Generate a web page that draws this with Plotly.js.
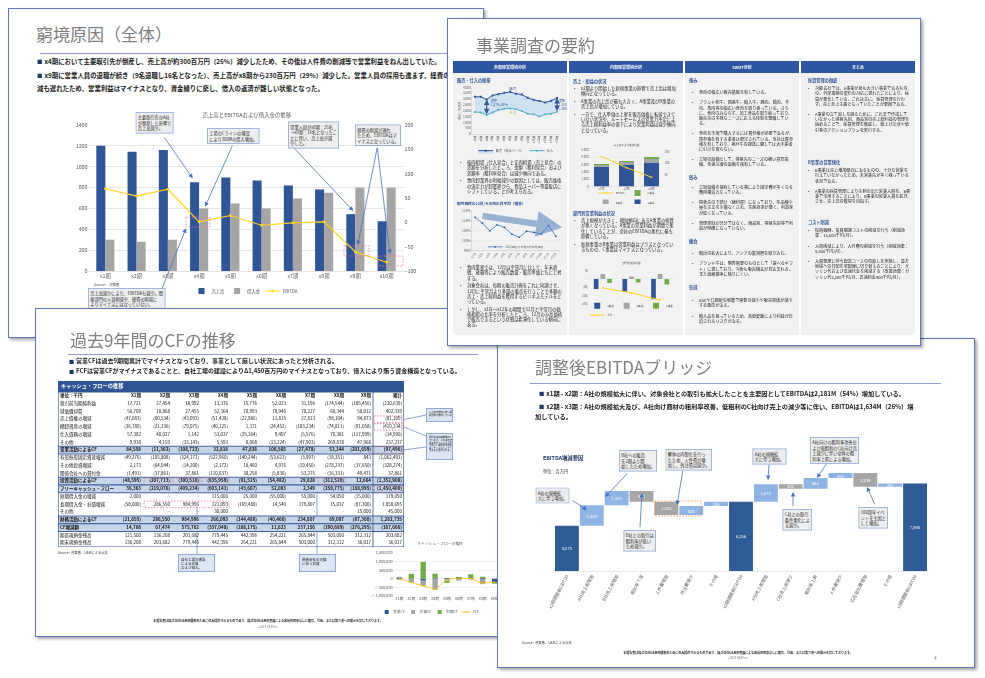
<!DOCTYPE html>
<html lang="ja"><head><meta charset="utf-8">
<script src="https://cdn.plot.ly/plotly-3.0.1.min.js"></script>
<style>
*{box-sizing:border-box;}
body{margin:0;width:985px;height:678px;position:relative;overflow:hidden;background:#fff;font-family:"Noto Sans CJK JP","Noto Sans",sans-serif;}
.slide{position:absolute;background:#fff;overflow:hidden;box-shadow:2px 2px 3px rgba(0,0,0,0.35);}
.frame{position:absolute;left:0;top:0;right:0;bottom:0;border:1.5px solid #5d76bd;z-index:50;pointer-events:none;}
.a{position:absolute;}
.ttl{position:absolute;color:#7f7f7f;font-size:17px;line-height:1;white-space:nowrap;}
.rule{position:absolute;height:1px;background:#8e9fd0;}
.bl{position:absolute;font-size:6.2px;font-weight:bold;color:#1a1a1a;line-height:1;white-space:nowrap;}
.sq{font-size:0.85em;color:#1f3864;margin-right:2px;}
.t2{position:absolute;transform:scale(0.5);transform-origin:0 0;white-space:nowrap;line-height:1.15;}
.tw{position:absolute;transform:scale(0.5);transform-origin:0 0;white-space:normal;line-break:anywhere;word-break:break-all;line-height:1.15;}
.ctr{position:absolute;transform:translateX(-50%) scale(0.5);transform-origin:50% 0;white-space:nowrap;line-height:1;}
.note{position:absolute;background:#dbe5f3;border:0.8px solid #8fa8d8;overflow:hidden;}
.s2in{position:absolute;left:0;top:0;width:948px;height:656px;transform:scale(0.5);transform-origin:0 0;}
.colh{position:absolute;top:86px;height:24px;width:228px;background:#2e55a2;color:#fff;font-size:8px;font-weight:bold;text-align:center;line-height:24px;}
.colb{position:absolute;top:110px;height:524px;width:228px;background:#f2f2f2;}
.sec{position:absolute;font-size:8.4px;font-weight:bold;color:#2f5597;white-space:nowrap;line-height:10px;}
.ul{position:absolute;left:12px;width:206px;font-size:8.6px;line-height:10.4px;color:#222;}
.ul div{position:relative;padding-left:14px;margin-bottom:5px;}
.ul div::before{content:'•';position:absolute;left:0;top:0;}
.ul.w div{margin-bottom:10px;}
.ul.s{font-size:8.2px;}
</style></head><body>

<!-- ===== Slide 1 ===== -->
<div class="slide" id="s1" style="left:8px;top:8px;width:476px;height:330px;z-index:1">
 <div class="frame"></div>
 <div class="ttl" style="left:28px;top:16.5px">窮境原因（全体）</div>
 <div class="rule" style="left:32px;top:45px;width:450px"></div>
 <div class="bl" style="left:29px;top:51.3px;font-size:6.4px"><span class="sq">■</span>x4期において主要取引先が倒産し、売上高が約300百万円（25%）減少したため、その後は人件費の削減等で営業利益をねん出していた。</div>
 <div class="bl" style="left:29px;top:64.8px;font-size:6.4px"><span class="sq">■</span>x9期に営業人員の退職が続き（9名退職し16名となった）、売上高がx8期から230百万円（29%）減少した。営業人員の採用も進まず、経費の削</div>
 <div class="bl" style="left:29px;top:77.8px;font-size:6.4px">減も遅れたため、営業利益はマイナスとなり、資金繰りに窮し、借入の返済が難しい状態となった。</div>
</div>

<!-- ===== Slide 3 ===== -->
<div class="slide" id="s3" style="left:35px;top:308px;width:463px;height:329px;z-index:2">
 <div class="frame"></div>
 <div class="ttl" style="left:35px;top:22.5px">過去9年間のCFの推移</div>
 <div class="rule" style="left:33px;top:45.5px;width:410px"></div>
 <div class="bl" style="left:34px;top:49.7px;font-size:6px"><span class="sq">■</span>営業CFは過去9期間累計でマイナスとなっており、事業として厳しい状況にあったと分析される。</div>
 <div class="bl" style="left:34px;top:59.7px;font-size:6px"><span class="sq">■</span>FCFは営業CFがマイナスであることと、自社工場の建設によりΔ1,450百万円のマイナスとなっており、借入により賄う資金構造となっている。</div>
 <div class="a" style="left:23px;top:72.7px;width:346px;height:11px;background:#2f5597;"></div>
 <div class="t2" style="left:26px;top:74.6px;font-size:10.4px;font-weight:bold;color:#fff">キャッシュ・フローの推移</div>
 <svg class="a" style="left:0;top:0;overflow:visible" width="463" height="329">
  <g stroke="#6f8fcf" stroke-width="0.8" fill="none">
   <line x1="391" y1="107" x2="369" y2="111.5"/>
   <line x1="391" y1="128" x2="369" y2="119"/>
   <line x1="391" y1="139" x2="369" y2="142"/>
   <line x1="162" y1="246" x2="162" y2="198"/>
   <line x1="282" y1="246" x2="282" y2="176"/>
  </g>
 </svg>
 <div class="note" style="left:391px;top:100px;width:27px;height:14px"><div class="tw" style="left:1.5px;top:1.5px;width:47px;font-size:4.6px;color:#1a1a1a">売上高の増加に伴い運転資本が増加している。</div></div>
 <div class="note" style="left:391px;top:125px;width:27px;height:27px"><div class="tw" style="left:1.5px;top:1.5px;width:47px;font-size:4.6px;color:#1a1a1a">棚卸資産は毎期増加しているが、これは架空在庫の計上によるものであり、実態は不良在庫（デッドストック）であると推察される。</div></div>
 <div class="note" style="left:143px;top:246px;width:37px;height:18px"><div class="t2" style="left:2px;top:2px;font-size:7px;color:#1a1a1a">自社工場の建設<br>による投資<br>および借入。</div></div>
 <div class="note" style="left:264px;top:246px;width:37px;height:18px"><div class="t2" style="left:2px;top:2px;font-size:7px;color:#1a1a1a">関係会社の清算<br>に伴う投資</div></div>
 <div class="t2" style="left:23px;top:242.5px;font-size:6.6px;color:#333">Source:&nbsp;&nbsp;決算書、U&amp;Mによる分析</div>
 <div class="ctr" style="left:233px;top:311px;font-size:6px;font-weight:bold;color:#222">本報告書は株式会社U&amp;Mの顧客のためにのみ提供されるものであり、株式会社U&amp;Mの書面による事前の同意なしに複写、引用、または第三者への開示を禁じております。</div>
 <div class="ctr" style="left:233px;top:317.5px;font-size:5.6px;color:#777">©2019 U&amp;M Inc.</div>
</div>

<!-- ===== Slide 4 ===== -->
<div class="slide" id="s4" style="left:497px;top:338px;width:478px;height:330px;z-index:3">
 <div class="frame"></div>
 <div class="ttl" style="left:38px;top:20px">調整後EBITDAブリッジ</div>
 <div class="rule" style="left:33px;top:45.3px;width:411px"></div>
 <div class="bl" style="left:42px;top:53px"><span class="sq">■</span>x1期 - x2期：A社の規模拡大に伴い、対象会社との取引も拡大したことを主要因としてEBITDAは2,181M（54%）増加している。</div>
 <div class="bl" style="left:42px;top:65.6px"><span class="sq">■</span>x2期 - x3期：A社の規模拡大及び、A社向け商材の粗利率改善、低粗利のC社向け売上の減少等に伴い、EBITDAは1,634M（26%）増</div>
 <div class="bl" style="left:38px;top:76.2px">加している。</div>
 <div class="t2" style="left:46px;top:116.5px;font-size:10.6px;font-weight:bold;color:#1f3864">EBITDA増減要因</div>
 <div class="t2" style="left:46px;top:130.5px;font-size:8.4px;color:#333">単位：百万円</div>
 <div class="t2" style="left:25px;top:302.5px;font-size:6.6px;color:#333">Source:&nbsp;&nbsp;決算書、U&amp;Mによる分析</div>
 <div class="ctr" style="left:241px;top:312.5px;font-size:6px;font-weight:bold;color:#222">本報告書は株式会社U&amp;Mの顧客のためにのみ提供されるものであり、株式会社U&amp;Mの書面による事前の同意なしに複写、引用、または第三者への開示を禁じております。</div>
 <div class="ctr" style="left:241px;top:318.5px;font-size:5.6px;color:#777">©2019 U&amp;M Inc.</div>
 <div class="t2" style="left:437px;top:317px;font-size:10px;color:#7f7f7f">4</div>
</div>

<!-- ===== Slide 2 ===== -->
<div class="slide" id="s2" style="left:447px;top:18px;width:474px;height:328px;z-index:4">
 <div class="frame"></div>
 <div class="s2in" id="s2in">
  <div class="ttl" style="left:58px;top:37px;font-size:34px">事業調査の要約</div>
  <div class="colh" style="left:12px">外部経営環境分析</div>
  <div class="colh" style="left:244px">内部経営環境分析</div>
  <div class="colh" style="left:476px">SWOT分析</div>
  <div class="colh" style="left:708px">まとめ</div>
  <div class="colb" style="left:12px"></div>
  <div class="colb" style="left:244px"></div>
  <div class="colb" style="left:476px"></div>
  <div class="colb" style="left:708px"></div>

  <!-- col 1 -->
  <div class="sec" style="left:20px;top:119px">販売・仕入の推移</div>
  <div class="ul" style="left:26px;top:283px">
   <div>枝肉相場（仕入見合）と正肉相場（売上見合）の差額を分析したところ、金額（粗利見合）および差額率（粗利率見合）は減少傾向である。</div>
   <div>食肉卸業界の利幅減少の要因としては、販売価格の決定力が卸業界から、食品スーパー等量販店にシフトしていることが考えられる。</div>
  </div>
  <div class="sec" style="left:20px;top:366px;font-size:7.4px">卸売価格の12月/その他の月平均（推移）</div>
  <div class="ul" style="left:26px;top:493px">
   <div>食肉業界では、12月は平常月に比して、年末商戦、歳暮等により販売数量・販売単価ともに上昇する。</div>
   <div>対象会社は、毎期の販売計画をこれに同調させ、12月に平常月より多量の販売を行うことで多額の売上・売上総利益を獲得するビジネスモデルをとっている。</div>
   <div>しかし、x1年～x12年の期間で12月と平常月の価格相場の比率を分析したところ、12月のみ高価格で販売できるという状態は希薄化している傾向にある。</div>
  </div>

  <!-- col 2 -->
  <div class="sec" style="left:252px;top:121px">売上・損益の状況</div>
  <div class="ul" style="left:254px;top:135px">
   <div>x2期より開始した新規事業の影響で売上高は増加傾向となっている。</div>
   <div>A事業の売上高が最も大きく、A事業及びB事業の売上高が増加している。</div>
   <div>一方で、仕入単価の上昇を販売価格に転嫁できていない状況や、ルートセールスの営業力不足による売上総利益率の低下により営業利益は減少傾向となっている。</div>
  </div>
  <div class="sec" style="left:252px;top:385px">部門別営業利益の状況</div>
  <div class="ul" style="left:254px;top:399px">
   <div>売上規模が大きく、増加傾向にあるA事業の採算が悪くなっている。A事業の営業利益が期間で悪化していることが、全社のEBITDAの悪化に最も影響している。</div>
   <div>新規事業のB事業は営業利益はプラスとなっているものの、C事業はマイナスとなっている。</div>
  </div>

  <!-- col 3 -->
  <div class="sec" style="left:484px;top:119px">強み</div>
  <div class="ul w s" style="left:490px;top:143px">
   <div>食肉の幅広い販売基盤を有している。</div>
   <div>ブランド和牛、国産牛、輸入牛、豚肉、鶏肉、羊肉、馬肉等の幅広い食肉を取り扱っている。さらに、食肉のみならず、加工食品を取り扱っており、販売先の多様なニーズに応える体制を整備している。</div>
   <div>食肉を市場で購入するには買参権が必要であるが、買参権を有する業者は限定されている。当社は買参権を有しており、神戸牛の調達に関しては大手業者に引けを取らない。</div>
   <div>工場の設備として、得意先のニーズの強い真空設備、急速冷凍の設備を保有している。</div>
  </div>
  <div class="sec" style="left:484px;top:313px">弱み</div>
  <div class="ul w s" style="left:490px;top:332px">
   <div>工場設備を保有している事により固定費が多くなる費用構造となっている。</div>
   <div>得意先の下請け（便利屋）になっており、多品種少量を注文を余儀なくされ、生産効率が悪く、利益率が低くなっている。</div>
   <div>管理体制が充分ではなく、商品別、得意先別等で利益が明確になっていない。</div>
  </div>
  <div class="sec" style="left:484px;top:440px">機会</div>
  <div class="ul w s" style="left:490px;top:465px">
   <div>輸出の拡大により、アジアの富裕層を取り込む。</div>
   <div>ブランド牛は、贈答需要のものとして「選べるギフト」に適しており、今後も販売機会が見込まれる。また価格競争に陥りにくい。</div>
  </div>
  <div class="sec" style="left:484px;top:532px">脅威</div>
  <div class="ul w s" style="left:490px;top:559px">
   <div>BSEや口蹄疫の影響で需要の減少や販売単価が減少する懸念がある。</div>
   <div>輸入品を扱っているため、為替変動により利益が圧迫されるリスクがある。</div>
  </div>

  <!-- col 4 -->
  <div class="sec" style="left:722px;top:119px">採算管理の徹底</div>
  <div class="ul w s" style="left:722px;top:135px">
   <div>対象会社では、A事業が最も大きい事業であるものの、外部環境の変化の対応に遅れたことにより、採算が悪化している。これは主に、採算管理を行わず、売上至上主義となっていたことが要因である。</div>
   <div>A事業の立て直しを図るために、これまで作成していなかった得意先別、商品別の売上総利益の管理を始めることで、採算管理を徹底し、値上げ交渉や値引等のアクションプランを実行する。</div>
  </div>
  <div class="sec" style="left:722px;top:282px">B事業の営業強化</div>
  <div class="ul w s" style="left:722px;top:299px">
   <div>B事業は売上増加傾向にあるものの、十分な営業を行えていなかったため、未営業先が多く残っている状況である。</div>
   <div>A事業の採算管理により余剰の出た営業人員を、B事業で活用することにより、B事業の営業人員を拡充させ、売上高の獲得を目指す。</div>
  </div>
  <div class="sec" style="left:722px;top:402px">コスト削減</div>
  <div class="ul w s" style="left:722px;top:419px">
   <div>役員報酬、役員関連コストの削減を行う（削減効果：15,000千円/月）。</div>
   <div>人員削減により、人件費の削減を行う（削減効果：8,000千円/月）。</div>
   <div>人員整理に伴う配送コースの見直しを実施し、遠方地域への日配を宅配便に切り替えることにより、ガソリン代および高速代金を削減する（改善効果：ガソリン代2,200千円/月、高速料金900千円/月）。</div>
  </div>
 </div>
</div>

<script>
// ================= DATA =================
// Slide 1: 売上高とEBITDAおよび借入金の推移
const s1Periods = ['x1期','x2期','x3期','x4期','x5期','x6期','x7期','x8期','x9期','x10期'];
const s1Sales   = [1200,1144,1160,852,897,868,820,782,545,477];
const s1Loans   = [300,280,300,600,648,600,696,750,800,800];
const s1Ebitda  = [69,54,68,1,14,-6,-1,1,-61,-82];

// Slide 2: small charts
const s2PeriodsA = ['x1期','x2期','x3期','x4期','x5期','x6期','x7期','x8期','x9期','x10期','x11期','x12期','x13期','x14期','x15期'];
const s2Sales    = [3200,3200,2970,3310,3430,3540,3630,3460,3400,3110,2940,2830,2710,2860,3090];
const s2Purch    = [1890,1860,1630,1860,2060,2170,2200,2140,1970,1740,1690,1510,1690,1740,1910];
const s2PeriodsB = ['x1年','x2年','x3年','x4年','x5年','x6年','x7年','x8年','x9年','x10年','x11年','x12年'];
const s2Ratio    = [111.8,108.8,105.0,108.0,106.7,103.3,101.7,104.7,104.2,103.3,107.7,102.2];
const s2Years    = ['x1期','x2期','x3期'];
const s2SegA     = [2640,2950,3180];
const s2SegB     = [320,360,590];
const s2SegC     = [180,180,270];
const s2Ebitda   = [129,81,40];
const s2ProfA    = [-60,-77,-123];
const s2ProfB    = [30,15,30];
const s2ProfC    = [-24,-22,-34];
const s2ProfAll  = [-54,-84,-127];
const s2ProfTickVals = [50,0,-50,-100,-150];
const s2ProfTickText = ['50','-','(50)','(100)','(150)'];

// Slide 3: キャッシュ・フローの推移 (単位：千円)
const cfHeader = ['単位：千円','X1期','X2期','X3期','X4期','X5期','X6期','X7期','X8期','X9期','累計'];
const cfLabels = ['税引前当期純利益','減価償却費','売上債権の増減','棚卸資産の増減','仕入債務の増減','その他','営業活動によるCF','有形無形固定資産増減','その他投資増減','関係会社への貸付金','投資活動によるCF','フリーキャッシュ・フロー','短期借入金の増減','長期借入金・社債増減','その他','財務活動によるCF','CF増減額','期首現預金残高','期末現預金残高'];
const cfPretax    = [17721,27454,16992,13376,15776,52023,31196,-174544,-185456,-230639];
const cfDeprec    = [56709,18868,27455,52364,70993,70946,70227,60344,50012,402339];
const cfRecv      = [-47083,-80534,-43093,-51428,-22986,11815,27813,-98104,94873,-81109];
const cfStock     = [-36780,-21336,-79075,-40125,1371,-24452,-103234,-74811,-91058,-410334];
const cfPay       = [57382,40027,1142,53037,-25364,9407,-5576,70381,-117999,-14990];
const cfOtherOp   = [9938,4159,-33143,5593,8068,-13224,-47903,269878,47968,237237];
const cfOperating = [84558,-11363,-108723,32818,47838,106565,-27478,53144,-201659,-97496];
const cfCapex     = [-49276,-105808,-324171,-522960,-140244,-53621,-3997,-18351,843,-1062491];
const cfOtherInv  = [2173,-64044,-14200,-2172,18460,4976,-19450,-278237,-37650,-328274];
const cfLoanAff   = [-1491,-37861,37861,-110837,30258,-5836,53275,-16331,49471,37861];
const cfInvesting = [-48595,-207713,-300510,-635959,-91525,-54482,29828,-312520,12664,-1352908];
const cfFree      = [36363,-219076,-409234,-603141,-43687,52083,2349,-259775,-188995,-1450400];
const cfShortLoan = [2000,null,null,115000,25000,-55000,55000,54050,-15000,179050];
const cfLongLoan  = [-58000,286550,984996,121093,-169488,14540,179807,15037,-87300,1058695];
const cfOtherFin  = [null,null,null,30000,null,null,null,null,15000,45000];
const cfFinancing = [-21655,286550,984996,266093,-144488,-40460,234807,69087,-87300,1282735];
const cfChange    = [14708,67474,575762,-337048,-188175,11623,237156,-190689,-276295,-167666];
const cfBegin     = [121500,136208,203682,779445,442396,254221,265844,503000,312312,203682];
const cfEnd       = [136208,203682,779445,442396,254221,265844,503000,312312,36017,36017];
const cfChartPeriods = ['x1期','x2期','x3期','x4期','x5期','x6期','x7期','x8期','x9期'];
const cfTickVals = [1500000,1000000,500000,0,-500000,-1000000];
const cfTickText = ['1,500,000','1,000,000','500,000','0','△ 500,000','△ 1,000,000'];

// Slide 4: EBITDA増減要因 (単位：百万円)
const wfLabels  = ['x1期調整後EBITDA','A社売上高増加','B社売上高増加','粗利率下落','人件費増加','外注費減少','その他','x2期調整後EBITDA','A社売上高増加','C社売上高減少','粗利率上昇','人件費減少','広告宣伝費増加','その他','x3期調整後EBITDA'];
const wfMeasure = ['absolute','relative','relative','relative','relative','relative','relative','total','relative','relative','relative','relative','relative','relative','total'];
const wfValues  = [4075,1854,1303,-980,-1205,820,389,null,1578,-402,962,452,-1239,283,null];

// ================= HELPERS =================
const FONT = '"Noto Sans CJK JP", "Noto Sans", sans-serif';
const CFG = {staticPlot:true, displayModeBar:false, responsive:false};
const fmt = v => v === null ? '-' : (v < 0 ? '(' + Math.abs(v).toLocaleString('en-US') + ')' : v.toLocaleString('en-US'));

function frame(divX, divY, w, h, pl, pt, pr, pb, k) {
  return { k, W: w*k, H: h*k,
    margin: {l:(pl-divX)*k, t:(pt-divY)*k, r:(divX+w-pr)*k, b:(divY+h-pb)*k, pad:0, autoexpand:false},
    P: x => (x-pl)/(pr-pl), Q: y => (pb-y)/(pb-pt) };
}
// scaled: plot drawn at k times the size, then shrunk by CSS (k defaults to 2)
function mount(parentId, originX, originY, absX, absY, w, h, scaled, k) {
  k = k || 2;
  const el = document.createElement('div');
  el.style.position = 'absolute';
  if (scaled) {
    el.style.left = (absX-originX)+'px'; el.style.top = (absY-originY)+'px';
    el.style.width = (k*w)+'px'; el.style.height = (k*h)+'px';
    el.style.transform = 'scale(' + (1/k) + ')'; el.style.transformOrigin = '0 0';
  } else {
    el.style.left = (2*(absX-originX))+'px'; el.style.top = (2*(absY-originY))+'px';
    el.style.width = (2*w)+'px'; el.style.height = (2*h)+'px';
  }
  document.getElementById(parentId).appendChild(el);
  return el;
}
function arrow(F, tx, ty, hx, hy, color) {
  return {xref:'paper', yref:'paper', x:F.P(hx), y:F.Q(hy), ax:(tx-hx)*F.k, ay:(ty-hy)*F.k,
    text:'', showarrow:true, arrowhead:2, arrowsize:1.1, arrowwidth:0.8*F.k, arrowcolor:color||'#4472c4'};
}
function callout(F, cx, cy, text, fs, extra) {
  return Object.assign({xref:'paper', yref:'paper', x:F.P(cx), y:F.Q(cy), xanchor:'center', yanchor:'middle',
    text, showarrow:false, align:'left', bgcolor:'#eeeeee', bordercolor:'#8fa8d8', borderwidth:0.8*F.k, borderpad:1.5*F.k,
    font:{size:fs*F.k, color:'#222', family:FONT}}, extra||{});
}
function label(F, x, y, text, fs, extra) {
  return Object.assign({xref:'paper', yref:'paper', x:F.P(x), y:F.Q(y), xanchor:'center', yanchor:'middle',
    text, showarrow:false, font:{size:fs*F.k, color:'#595959', family:FONT}}, extra||{});
}
function dashRect(F, x0, y0, x1, y1, color) {
  return {type:'rect', xref:'paper', yref:'paper', x0:F.P(x0), x1:F.P(x1), y0:F.Q(y0), y1:F.Q(y1),
    line:{color:color, width:0.75*F.k, dash:'dot'}, fillcolor:'rgba(0,0,0,0)'};
}
const base = F => ({width:F.W, height:F.H, margin:F.margin, paper_bgcolor:'rgba(0,0,0,0)', plot_bgcolor:'rgba(0,0,0,0)', font:{family:FONT}});

// ================= SLIDE 1 CHART =================
(function(){
  const F = frame(63,104,385,205, 88,125,404,271, 2);
  const el = mount('s1', 8, 8, 63, 104, 385, 205, true, 2);
  const tf = {size:10.6, color:'#595959', family:FONT};
  const traces = [
    {type:'bar', name:'売上高', x:s1Periods, y:s1Sales, marker:{color:'#2f5597'}},
    {type:'bar', name:'借入金', x:s1Periods, y:s1Loans, marker:{color:'#a5a5a5'}},
    {type:'scatter', mode:'lines+markers', name:'EBITDA', x:s1Periods, y:s1Ebitda, yaxis:'y2',
      line:{color:'#ffd21f', width:2.4}, marker:{symbol:'square', size:5, color:'#ffd21f'}}
  ];
  const layout = Object.assign(base(F), {
    barmode:'group', bargap:0.42, bargroupgap:0,
    xaxis:{tickfont:tf, showline:true, linecolor:'#d9d9d9', linewidth:1.5, ticks:'', automargin:false},
    yaxis:{range:[0,1400], dtick:200, tickfont:tf, gridcolor:'#d9d9d9', gridwidth:1.3, zeroline:false, ticks:'', automargin:false},
    yaxis2:{range:[-100,200], dtick:50, overlaying:'y', side:'right', showgrid:false, zeroline:false, tickfont:tf, ticks:'', automargin:false},
    showlegend:true,
    legend:{orientation:'h', x:0.5, xanchor:'center', y:F.Q(291), yanchor:'middle', font:{size:8.6, color:'#595959', family:FONT}, itemwidth:30, bgcolor:'rgba(0,0,0,0)'},
    shapes:[
      dashRect(F,186,217,210,227,'#e8708e'),
      dashRect(F,344,246,369,256,'#e8708e'),
      dashRect(F,378,256,403,266,'#e8708e')
    ],
    annotations:[
      label(F,247,114,'売上高とEBITDAおよび借入金の推移',5.4),
      label(F,93,284,'Source:　決算書',3.4,{xanchor:'left', font:{size:6.8,color:'#444',family:FONT}}),
      arrow(F,164,137,192.7,178.3), arrow(F,232.7,145,205,206.7), arrow(F,293.3,147.3,353.3,211),
      arrow(F,377.3,147.3,357.7,245), arrow(F,377.3,147.3,390,254), arrow(F,161.7,289.3,186,228.3),
      callout(F,154.5,123,'主要取引先のA社<br>が倒産した影響で<br>売上高減少。',4.2),
      callout(F,233,136,'工場のCラインの増設<br>により300Mの借入増加。',4.2),
      callout(F,313.3,135,'営業人員がx8期：25名<br>→x9期：16名となったこ<br>とに伴い、売上高が減<br>少した。',4.2),
      callout(F,378,135,'経費の削減が遅れ<br>たため、EBITDAはマ<br>イナスとなっている。',4.2),
      callout(F,126.5,299,'売上高減少により、EBITDAも減少。間<br>接部門の人員削減や、経費の削減に<br>よりマイナスにはなっていない。',4.2)
    ]
  });
  Plotly.newPlot(el, traces, layout, CFG);
})();

// ================= SLIDE 3 TABLE =================
(function(){
  const F = frame(58,391.7,346,155, 58,391.7,404,546.7, 2);
  const el = mount('s3', 35, 308, 58, 391.7, 346, 155, true, 2);
  const rows = [cfPretax,cfDeprec,cfRecv,cfStock,cfPay,cfOtherOp,cfOperating,cfCapex,cfOtherInv,cfLoanAff,cfInvesting,cfFree,cfShortLoan,cfLongLoan,cfOtherFin,cfFinancing,cfChange,cfBegin,cfEnd];
  const hiRows = [6,10,11,15,16];
  const colW = [56,29,29,29,29,29,29,29,29,27,31];
  const edges = [0]; colW.forEach(w => edges.push(edges[edges.length-1]+w));
  const nR = rows.length + 1;
  const bold = (t, r) => (r === 0 || hiRows.includes(r-1)) ? '<b>'+t+'</b>' : t;
  const ys = Array.from({length:nR}, (_, r) => r + 0.5);
  const traces = [];
  traces.push({type:'scatter', mode:'text', x:ys.map(()=>2), y:ys, textposition:'middle right', cliponaxis:false, hoverinfo:'skip',
    text:[cfHeader[0]].concat(cfLabels).map((t,r)=>bold(t,r)), textfont:{size:9, color:'#111', family:FONT}});
  for (let j = 0; j < 10; j++) {
    const txt = [cfHeader[j+1]].concat(rows.map(r => fmt(r[j])));
    traces.push({type:'scatter', mode:'text', x:ys.map(()=>edges[j+2]-2), y:ys, textposition:'middle left', cliponaxis:false, hoverinfo:'skip',
      text:txt.map((t,r)=>bold(t,r)), textfont:{size:9, color:'#111', family:FONT}});
  }
  const shapes = [];
  hiRows.forEach(i => shapes.push({type:'rect', x0:0, x1:edges[11], y0:i+1, y1:i+2, fillcolor:'#c7d5eb', line:{color:'#2f5597', width:1.8}, layer:'below'}));
  shapes.push({type:'line', x0:edges[10], x1:edges[10], y0:0, y1:nR, line:{color:'#2f5597', width:1.6}});
  shapes.push({type:'rect', x0:0, x1:edges[11], y0:0, y1:nR, line:{color:'#2f5597', width:2.4}, fillcolor:'rgba(0,0,0,0)'});
  const red = (c0, c1, r) => ({type:'rect', x0:edges[c0+1]+1, x1:edges[c1+2]-1, y0:r+1+0.08, y1:r+2-0.08, line:{color:'#e0607a', width:1.4, dash:'dot'}});
  [[9,9,2],[9,9,3],[9,9,6],[1,1,10],[2,2,10],[3,3,10],[7,7,10],[9,9,11],[1,3,13]].forEach(a => shapes.push(red(a[0],a[1],a[2])));
  const layout = Object.assign(base(F), {
    showlegend:false,
    xaxis:{range:[0,346], visible:false, fixedrange:true},
    yaxis:{range:[nR,0], visible:false, fixedrange:true},
    shapes
  });
  Plotly.newPlot(el, traces, layout, CFG);
})();

// ================= SLIDE 3 CF CHART =================
(function(){
  const F = frame(340,537,220,83, 393,553,501,596, 3);
  const el = mount('s3', 35, 308, 340, 537, 220, 83, true, 3);
  const tf = {size:3.8*F.k, color:'#595959', family:FONT};
  const traces = [
    {type:'bar', name:'営業CF', x:cfChartPeriods, y:cfOperating.slice(0,9), marker:{color:'#2f5597'}},
    {type:'bar', name:'投資CF', x:cfChartPeriods, y:cfInvesting.slice(0,9), marker:{color:'#a5a5a5'}},
    {type:'bar', name:'財務CF', x:cfChartPeriods, y:cfFinancing.slice(0,9), marker:{color:'#70ad47'}},
    {type:'scatter', mode:'lines+markers', name:'FCF', x:cfChartPeriods, y:cfFree.slice(0,9), line:{color:'#ffc000', width:0.8*F.k}, marker:{size:1.5*F.k, color:'#ffc000'}}
  ];
  const layout = Object.assign(base(F), {
    barmode:'relative', bargap:0.55,
    xaxis:{tickfont:tf, ticks:'', showline:false, automargin:false},
    yaxis:{range:[-1000000,1500000], tickvals:cfTickVals, ticktext:cfTickText, tickfont:tf, gridcolor:'#e3e3e3', gridwidth:0.6*F.k, zeroline:false, ticks:'', automargin:false},
    showlegend:true,
    legend:{orientation:'h', x:F.P(380), xanchor:'left', y:F.Q(612), yanchor:'middle', font:{size:3.6*F.k,color:'#595959',family:FONT}, itemwidth:30, tracegroupgap:0},
    annotations:[label(F,440,543,'キャッシュ・フローの推移',3.8)]
  });
  Plotly.newPlot(el, traces, layout, CFG);
})();

// ================= SLIDE 4 WATERFALL =================
(function(){
  const F = frame(500,428,475,212, 554.6,468,927.4,571, 2);
  const el = mount('s4', 497, 338, 500, 428, 475, 212, true, 2);
  let run = 0;
  const wfText = wfValues.map((v,i) => {
    if (wfMeasure[i] === 'absolute') { run = v; return fmt(v); }
    if (wfMeasure[i] === 'total') return fmt(run);
    run += v; return fmt(Math.abs(v));
  });
  const idx = wfLabels.map((_, i) => i);
  const traces = [{type:'waterfall', x:idx, y:wfValues.map(v => v === null ? 0 : v), measure:wfMeasure,
    text:wfText, textposition:'inside', insidetextanchor:'middle', constraintext:'none',
    textfont:{size:8.2, color:'#ffffff', family:FONT},
    increasing:{marker:{color:'#8eb4e3'}}, decreasing:{marker:{color:'#a6a6a6'}}, totals:{marker:{color:'#2f5b96'}},
    connector:{visible:false}, hoverinfo:'skip'}];
  const layout = Object.assign(base(F), {
    showlegend:false, waterfallgap:0.04,
    xaxis:{range:[-0.5,14.5], tickvals:idx, ticktext:wfLabels, tickangle:-62, tickfont:{size:8.8,color:'#595959',family:FONT}, ticks:'', showline:true, linecolor:'#e3e3e3', linewidth:1.5, showgrid:false, zeroline:false, automargin:false},
    yaxis:{range:[0,9300], visible:false, automargin:false},
    shapes:[dashRect(F,655,501,701,516,'#ed7d31')],
    annotations:[
      arrow(F,572,500,587,510), arrow(F,628,473,605,497), arrow(F,640,528,642,493), arrow(F,683,470,677,505),
      arrow(F,769,464,768,480), arrow(F,793,507,793,492), arrow(F,827,463,817,478), arrow(F,875,505,867,487),
      callout(F,552.5,495.5,'A社の規模拡<br>大に伴う増加。',4.2),
      callout(F,638,460.5,'B社への販売<br>を2期より開<br>始したため増加。',4.2),
      callout(F,640,540.5,'B社との取引は<br>粗利率が低い<br>ため減少。',4.2),
      callout(F,689,459.5,'解体の内製化を行っ<br>たため、人件費が増<br>加し、外注費は減少。',4.2),
      callout(F,769.5,456.5,'A社の規模拡<br>大に伴う増加。',4.2),
      callout(F,797,519.5,'C社との取引<br>条件悪化によ<br>る減少。',4.2),
      callout(F,834.5,450.5,'A社向けの粗利率改善お<br>よび低粗利のC社向け売<br>上減少に伴い全体の粗<br>利率上昇による増加。',4.2),
      callout(F,873,517.5,'100周年イベ<br>ントを主因と<br>して増加。',4.2)
    ]
  });
  Plotly.newPlot(el, traces, layout, CFG);
})();

// ================= SLIDE 2 MINI CHARTS =================
(function(){
  // chart A: 販売・仕入の推移
  const F = frame(453,83,114,72, 472,87.3,560,134, 2);
  const el = mount('s2in', 447, 18, 453, 83, 114, 72, false);
  const tf = {size:6.4, color:'#595959', family:FONT};
  const traces = [
    {type:'scatter', mode:'lines+markers', name:'仕入', x:s2PeriodsA, y:s2Purch, line:{color:'#4bacc6', width:2}, marker:{symbol:'circle', size:4, color:'#4bacc6'}},
    {type:'scatter', mode:'lines+markers', name:'販売（税込ベース）', x:s2PeriodsA, y:s2Sales, fill:'tonexty', fillcolor:'rgba(197,221,242,0.8)', line:{color:'#2f5597', width:2}, marker:{symbol:'square', size:4, color:'#2f5597'}}
  ];
  const layout = Object.assign(base(F), {
    xaxis:{range:[-0.5,14.5], tickangle:-90, tickfont:{size:5.6,color:'#595959',family:FONT}, ticks:'', showline:true, linecolor:'#bfbfbf', showgrid:false, automargin:false},
    yaxis:{range:[0,4000], dtick:500, tickformat:',', tickfont:tf, showline:true, linecolor:'#bfbfbf', showgrid:false, zeroline:false, ticks:'', automargin:false,
      title:{text:'単位：百万円', font:{size:6,color:'#595959',family:FONT}, standoff:2}},
    showlegend:true,
    legend:{orientation:'h', x:0.5, xanchor:'center', y:F.Q(150.7), yanchor:'middle', font:{size:6.4,color:'#595959',family:FONT}, itemwidth:30},
    annotations:[
      {xref:'x', yref:'y', x:2, y:s2Sales[2], ax:2, ay:s2Purch[2], axref:'x', ayref:'y', text:'', showarrow:true, arrowside:'end+start', arrowhead:2, arrowsize:1, arrowwidth:2.2, arrowcolor:'#2f5597'},
      {xref:'x', yref:'y', x:14, y:s2Sales[14], ax:14, ay:s2Purch[14], axref:'x', ayref:'y', text:'', showarrow:true, arrowside:'end+start', arrowhead:2, arrowsize:1, arrowwidth:2.2, arrowcolor:'#2f5597'},
      label(F,490,102,'差額<br>1,370(-30%)',3.1,{xanchor:'left', align:'left'}),
      label(F,558,104,'差額<br>1,180<br>(-38%)',3.1,{xanchor:'left', align:'left'}),
      label(F,513,88.5,'販売',3.4),
      label(F,513,112.5,'仕入',3.4)
    ].map((a,i) => { if (i >= 2) a.font.color = (i === 5 ? '#9bbb59' : '#2f5597'); return a; })
  });
  Plotly.newPlot(el, traces, layout, CFG);
})();
(function(){
  // chart B: 12月価格/その他の月平均価格
  const F = frame(453,200,114,66, 471.3,211,559.7,250.7, 2);
  const el = mount('s2in', 447, 18, 453, 200, 114, 66, false);
  const tf = {size:6.4, color:'#595959', family:FONT};
  const traces = [{type:'scatter', mode:'lines+markers', name:'12月価格/その他の月平均価格', x:s2PeriodsB, y:s2Ratio,
    line:{color:'#4f7fc0', width:1.8}, marker:{symbol:'circle', size:3.5, color:'#2f5597'}}];
  const layout = Object.assign(base(F), {
    xaxis:{range:[-0.5,11.5], tickangle:-45, tickfont:{size:5.8,color:'#595959',family:FONT}, ticks:'', showline:true, linecolor:'#bfbfbf', showgrid:false, automargin:false},
    yaxis:{range:[95,115], dtick:5, ticksuffix:'%', tickfont:tf, showline:true, linecolor:'#bfbfbf', gridcolor:'#e6e6e6', zeroline:false, ticks:'', automargin:false},
    showlegend:true,
    legend:{orientation:'h', x:0.5, xanchor:'center', y:F.Q(247), yanchor:'middle', font:{size:5.6,color:'#595959',family:FONT}, itemwidth:30, bgcolor:'rgba(0,0,0,0)'},
    annotations:[
      {xref:'x', yref:'y', x:11.9, y:106.6, ax:0.9, ay:112.6, axref:'x', ayref:'y', text:'', showarrow:true, arrowhead:2, arrowsize:0.8, arrowwidth:13, arrowcolor:'rgba(79,129,189,0.55)'}
    ]
  });
  Plotly.newPlot(el, traces, layout, CFG);
})();
(function(){
  // chart C: 売上高および営業利益
  const F = frame(569,140,114,64, 589,150,664,186.7, 2);
  const el = mount('s2in', 447, 18, 569, 140, 114, 64, false);
  const tf = {size:5.8, color:'#595959', family:FONT};
  const traces = [
    {type:'bar', name:'A事業', x:s2Years, y:s2SegA, marker:{color:'#2f5597'}},
    {type:'bar', name:'B事業', x:s2Years, y:s2SegB, marker:{color:'#a5a5a5'}},
    {type:'bar', name:'C事業', x:s2Years, y:s2SegC, marker:{color:'#70ad47'}},
    {type:'scatter', mode:'lines+markers', name:'EBITDA', x:s2Years, y:s2Ebitda, yaxis:'y2', line:{color:'#ffd21f', width:2}, marker:{size:3.5, color:'#ffd21f'}}
  ];
  const layout = Object.assign(base(F), {
    barmode:'stack', bargap:0.42,
    xaxis:{tickfont:tf, ticks:'', showline:true, linecolor:'#d9d9d9', automargin:false},
    yaxis:{range:[0,5000], dtick:1000, tickformat:',', tickfont:tf, gridcolor:'#e6e6e6', zeroline:false, ticks:'', automargin:false},
    yaxis2:{range:[0,157], tickvals:[50,100,150], overlaying:'y', side:'right', showgrid:false, zeroline:false, tickfont:tf, ticks:'', automargin:false},
    showlegend:true,
    legend:{orientation:'h', x:0.5, xanchor:'center', y:F.Q(198), yanchor:'middle', font:{size:5.2,color:'#595959',family:FONT}, itemwidth:30},
    annotations:[label(F,626.5,144.3,'売上高および営業利益',2.6)]
  });
  Plotly.newPlot(el, traces, layout, CFG);
})();
(function(){
  // chart D: 部門別営業利益
  const F = frame(569,258,114,58, 588.7,269,674.3,305.6, 2);
  const el = mount('s2in', 447, 18, 569, 258, 114, 58, false);
  const tf = {size:5.6, color:'#595959', family:FONT};
  const traces = [
    {type:'bar', name:'A事業', x:s2Years, y:s2ProfA, marker:{color:'#2f5597'}},
    {type:'bar', name:'B事業', x:s2Years, y:s2ProfB, marker:{color:'#a5a5a5'}},
    {type:'bar', name:'C事業', x:s2Years, y:s2ProfC, marker:{color:'#70ad47'}},
    {type:'scatter', mode:'lines+markers', name:'全社', x:s2Years, y:s2ProfAll, line:{color:'#ffd21f', width:2}, marker:{size:3.5, color:'#ffd21f'}}
  ];
  const layout = Object.assign(base(F), {
    barmode:'group', bargap:0.3, bargroupgap:0.3,
    xaxis:{showticklabels:false, ticks:'', showline:false, automargin:false},
    yaxis:{range:[-160,60], tickvals:s2ProfTickVals, ticktext:s2ProfTickText, tickfont:tf, showgrid:false, zeroline:true, zerolinecolor:'#d9d9d9', ticks:'', automargin:false},
    showlegend:true,
    legend:{orientation:'h', x:0.5, xanchor:'center', y:F.Q(310.5), yanchor:'middle', font:{size:5.2,color:'#595959',family:FONT}, itemwidth:30},
    annotations:[label(F,631.5,262.7,'部門別営業利益',2.6)]
  });
  Plotly.newPlot(el, traces, layout, CFG);
})();
</script>
</body></html>
